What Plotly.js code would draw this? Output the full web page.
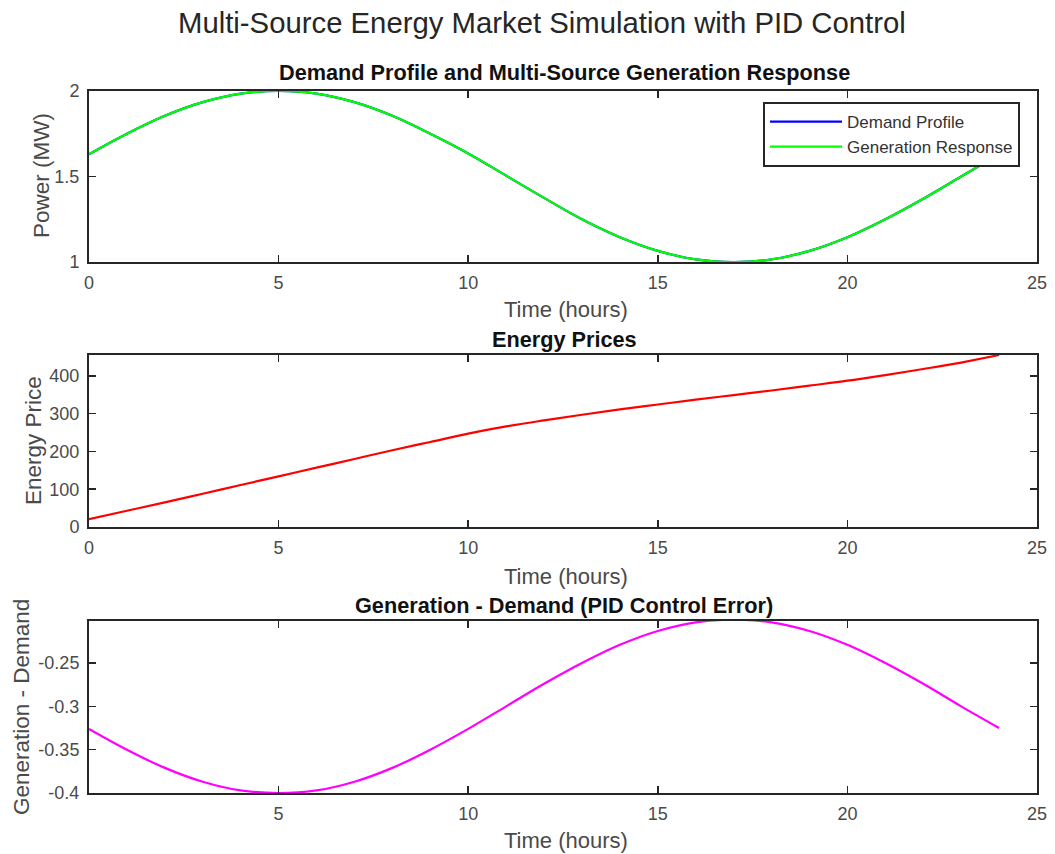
<!DOCTYPE html>
<html>
<head>
<meta charset="utf-8">
<script src="https://cdn.plot.ly/plotly-3.0.1.min.js"></script>
<style>
  html, body { margin: 0; padding: 0; background: #ffffff; }
  #chart { width: 1055px; height: 854px; }
</style>
</head>
<body>
<div id="chart"></div>
<script>
// ---- data ----
var hours = [0,1,2,3,4,5,6,7,8,9,10,11,12,13,14,15,16,17,18,19,20,21,22,23,24];
var demandProfile = [1.63,1.75,1.855,1.935,1.985,2.0,1.985,1.935,1.855,1.75,1.635,1.505,1.375,1.25,1.145,1.065,1.015,1.0,1.015,1.065,1.145,1.25,1.37,1.5,1.63];
var generationResponse = [1.63,1.75,1.855,1.935,1.985,2.0,1.985,1.935,1.855,1.75,1.635,1.505,1.375,1.25,1.145,1.065,1.015,1.0,1.015,1.065,1.145,1.25,1.37,1.5,1.63];
var energyPrice = [21,43,65,88,111,134,157,180,203,225,247,266,282,297,311,324,337,349,361,374,387,402,418,435,455];
var controlError = [-0.326,-0.35,-0.371,-0.387,-0.397,-0.4,-0.397,-0.387,-0.371,-0.35,-0.326,-0.3,-0.274,-0.25,-0.229,-0.213,-0.203,-0.2,-0.203,-0.213,-0.229,-0.25,-0.274,-0.3,-0.325];

var xTicks = [0,5,10,15,20,25];
var xTicksBottom = [5,10,15,20,25];
var yTicks1 = [1,1.5,2];
var yTicks1Text = ['1','1.5','2'];
var yTicks2 = [0,100,200,300,400];
var yTicks3 = [-0.4,-0.35,-0.3,-0.25];
var yTicks3Text = ['-0.4','-0.35','-0.3','-0.25'];

var mainTitle = 'Multi-Source Energy Market Simulation with PID Control';
var subTitles = ['Demand Profile and Multi-Source Generation Response','Energy Prices','Generation - Demand (PID Control Error)'];
var xTitle = 'Time (hours)';
var yTitles = ['Power (MW)','Energy Price','Generation - Demand'];

// ---- styling ----
var FONT = 'Liberation Sans, Arial, Helvetica, sans-serif';
var AX = '#262626';
var TXT = '#4a4a4a';
var W = 1055, H = 854;
function px(x){ return x / W; }
function py(y){ return 1 - y / H; }

var xdom = [px(89), px(1037)];
var doms = [[py(262), py(91)], [py(527), py(355)], [py(793), py(621)]];

function xaxis(anchor, dom, tickvals){
  return {
    domain: xdom, anchor: anchor, range: [0,25],
    tickmode: 'array', tickvals: tickvals, ticktext: tickvals.map(String),
    ticks: 'inside', ticklen: 7, tickwidth: 1.5, tickcolor: AX,
    showline: true, linecolor: AX, linewidth: 2, mirror: 'ticks',
    showgrid: false, zeroline: false,
    tickfont: {family: FONT, size: 18, color: TXT},
    ticklabelstandoff: 3, automargin: false, fixedrange: true
  };
}
function yaxis(anchor, dom, range, tickvals, ticktext){
  return {
    domain: dom, anchor: anchor, range: range,
    tickmode: 'array', tickvals: tickvals, ticktext: ticktext,
    ticks: 'inside', ticklen: 7, tickwidth: 1.5, tickcolor: AX,
    showline: true, linecolor: AX, linewidth: 2, mirror: 'ticks',
    showgrid: false, zeroline: false,
    tickfont: {family: FONT, size: 18, color: TXT},
    ticklabelstandoff: 4, automargin: false, fixedrange: true
  };
}

var traces = [
  {x: hours, y: demandProfile, type: 'scatter', mode: 'lines', name: 'Demand Profile',
   line: {color: '#0000ff', width: 2.2, shape: 'spline'}, xaxis: 'x', yaxis: 'y', hoverinfo: 'skip'},
  {x: hours, y: generationResponse, type: 'scatter', mode: 'lines', name: 'Generation Response',
   line: {color: '#00ff00', width: 2.2, shape: 'spline'}, xaxis: 'x', yaxis: 'y', hoverinfo: 'skip'},
  {x: hours, y: energyPrice, type: 'scatter', mode: 'lines', name: 'Energy Price', showlegend: false,
   line: {color: '#ff0000', width: 2.2, shape: 'spline'}, xaxis: 'x2', yaxis: 'y2', hoverinfo: 'skip'},
  {x: hours, y: controlError, type: 'scatter', mode: 'lines', name: 'Control Error', showlegend: false,
   line: {color: '#ff00ff', width: 2.2, shape: 'spline'}, xaxis: 'x3', yaxis: 'y3', hoverinfo: 'skip'}
];

var ann = [];
ann.push({text: mainTitle, xref: 'paper', yref: 'paper', x: px(542), y: py(22),
  xanchor: 'center', yanchor: 'middle', showarrow: false,
  font: {family: FONT, size: 29.3, color: '#262626'}});
var subY = [73, 339, 605];
var xtY = [309, 576, 840];
var ytX = [41, 33, 21];
var ytYc = [176, 441, 707];
for (var i = 0; i < 3; i++) {
  ann.push({text: '<b>' + subTitles[i] + '</b>', xref: 'paper', yref: 'paper', x: px(564), y: py(subY[i]),
    xanchor: 'center', yanchor: 'middle', showarrow: false,
    font: {family: FONT, size: 21.7, color: '#111111'}});
  ann.push({text: xTitle, xref: 'paper', yref: 'paper', x: px(566), y: py(xtY[i]),
    xanchor: 'center', yanchor: 'middle', showarrow: false,
    font: {family: FONT, size: 22, color: TXT}});
  ann.push({text: yTitles[i], xref: 'paper', yref: 'paper', x: px(ytX[i]), y: py(ytYc[i]),
    xanchor: 'center', yanchor: 'middle', showarrow: false, textangle: -90,
    font: {family: FONT, size: 22.5, color: TXT}});
}

var layout = {
  width: W, height: H,
  margin: {l: 0, r: 0, t: 0, b: 0, pad: 0},
  paper_bgcolor: '#ffffff', plot_bgcolor: '#ffffff',
  showlegend: true,
  legend: {x: px(1020), y: py(102), xanchor: 'right', yanchor: 'top',
    xref: 'paper', yref: 'paper',
    bgcolor: '#ffffff', bordercolor: AX, borderwidth: 2,
    font: {family: FONT, size: 17, color: '#333333'},
    tracegroupgap: 0, itemwidth: 72},
  xaxis: xaxis('y', doms[0], xTicks),
  yaxis: yaxis('x', doms[0], [1,2], yTicks1, yTicks1Text),
  xaxis2: xaxis('y2', doms[1], xTicks),
  yaxis2: yaxis('x2', doms[1], [0,455], yTicks2, yTicks2.map(String)),
  xaxis3: xaxis('y3', doms[2], xTicksBottom),
  yaxis3: yaxis('x3', doms[2], [-0.4,-0.2015], yTicks3, yTicks3Text),
  annotations: ann
};

Plotly.newPlot('chart', traces, layout, {staticPlot: true, displayModeBar: false});
</script>
</body>
</html>
